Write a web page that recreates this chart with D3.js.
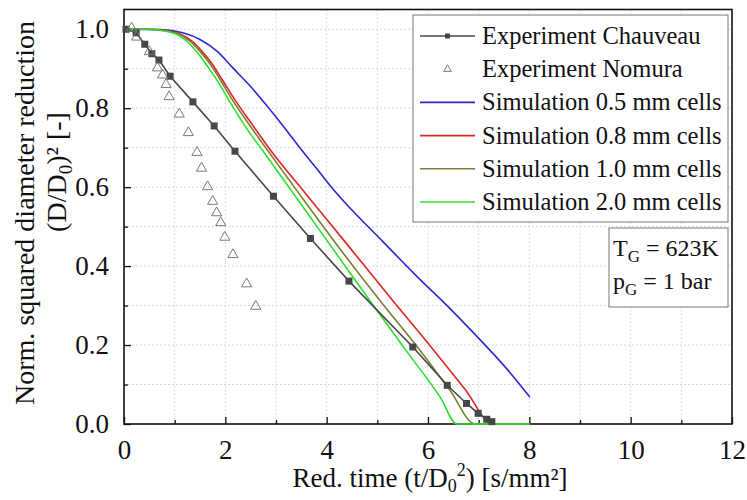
<!DOCTYPE html>
<html>
<head>
<meta charset="utf-8">
<script src="https://cdn.jsdelivr.net/npm/d3@7"></script>
<style>
  body { margin: 0; background: #fff; }
  text { font-family: "Liberation Serif", "Times New Roman", serif; fill: #111; }
</style>
</head>
<body>
<svg id="chart" width="747" height="500"></svg>
<script>
// experiment Chauveau (squares + line)
const chauveauX = [0.04, 0.24, 0.41, 0.55, 0.69, 0.91, 1.36, 1.78, 2.19, 2.95, 3.68, 4.44, 5.70, 6.38, 6.76, 6.99, 7.16, 7.26];
const chauveauY = [1.000, 0.991, 0.962, 0.938, 0.922, 0.881, 0.816, 0.755, 0.691, 0.577, 0.470, 0.362, 0.195, 0.098, 0.052, 0.027, 0.012, 0.006];

// experiment Nomura (open triangles)
const nomuraX = [0.15, 0.25, 0.50, 0.66, 0.76, 0.83, 0.89, 1.09, 1.27, 1.44, 1.53, 1.65, 1.75, 1.83, 1.91, 1.99, 2.15, 2.42, 2.60];
const nomuraY = [1.003, 0.980, 0.943, 0.902, 0.884, 0.860, 0.829, 0.785, 0.738, 0.688, 0.648, 0.601, 0.564, 0.535, 0.510, 0.473, 0.429, 0.355, 0.298];

// simulations
const sim05X = [0, 0.71, 1.16, 1.50, 1.84, 2.15, 2.49, 2.82, 3.14, 3.47, 3.81, 4.12, 4.36, 5.11, 5.78, 6.43, 6.89, 7.56, 8.01];
const sim05Y = [1.0, 0.999, 0.991, 0.974, 0.944, 0.902, 0.856, 0.806, 0.755, 0.700, 0.646, 0.596, 0.561, 0.462, 0.374, 0.293, 0.232, 0.139, 0.068];

const sim08X = [0, 0.51, 0.85, 1.14, 1.34, 1.54, 1.74, 1.93, 2.19, 2.55, 2.90, 3.57, 4.36, 5.25, 6.08, 6.73, 7.28, 8.01];
const sim08Y = [1.0, 1.0, 0.996, 0.986, 0.970, 0.944, 0.912, 0.874, 0.821, 0.755, 0.692, 0.586, 0.462, 0.321, 0.192, 0.088, 0.0, 0.0];

const sim10X = [0, 0.51, 0.81, 1.11, 1.30, 1.50, 1.70, 1.89, 2.13, 2.49, 2.84, 3.47, 4.26, 5.05, 5.84, 6.43, 6.93, 8.01];
const sim10Y = [1.0, 1.0, 0.996, 0.986, 0.970, 0.944, 0.912, 0.874, 0.823, 0.755, 0.692, 0.581, 0.444, 0.313, 0.187, 0.086, 0.0, 0.0];

const sim20X = [0, 0.51, 0.77, 1.07, 1.26, 1.46, 1.66, 1.86, 2.09, 2.43, 2.74, 3.47, 4.26, 4.89, 5.58, 6.24, 6.57, 8.01];
const sim20Y = [1.0, 1.0, 0.996, 0.985, 0.967, 0.939, 0.904, 0.866, 0.816, 0.747, 0.692, 0.561, 0.419, 0.306, 0.184, 0.068, 0.0, 0.0];

const xTicks = [0, 2, 4, 6, 8, 10, 12];
const yTicks = [0.0, 0.2, 0.4, 0.6, 0.8, 1.0];

const simSeries = [
  { name: "Simulation 0.5 mm cells", xs: sim05X, ys: sim05Y, color: "#2a2ad0" },
  { name: "Simulation 0.8 mm cells", xs: sim08X, ys: sim08Y, color: "#e02424" },
  { name: "Simulation 1.0 mm cells", xs: sim10X, ys: sim10Y, color: "#7d7d33" },
  { name: "Simulation 2.0 mm cells", xs: sim20X, ys: sim20Y, color: "#2ee02e" }
];

const margin = { left: 124, right: 15, top: 9.5, bottom: 76 };
const W = 747, H = 500;
const width = W - margin.left - margin.right;
const height = H - margin.top - margin.bottom;

const x = d3.scaleLinear().domain([0, 12]).range([0, width]);
const y = d3.scaleLinear().domain([0, 1.05]).range([height, 0]);

const svg = d3.select("#chart");
const g = svg.append("g").attr("transform", `translate(${margin.left},${margin.top})`);

// dotted grid at every minor step
g.append("g").selectAll("line")
  .data(d3.range(1, 12))
  .enter().append("line")
    .attr("x1", d => x(d)).attr("x2", d => x(d))
    .attr("y1", 0).attr("y2", height)
    .style("stroke", "#d8d8d8").style("stroke-dasharray", "2,2");
g.append("g").selectAll("line")
  .data(d3.range(1, 11).map(d => d / 10))
  .enter().append("line")
    .attr("x1", 0).attr("x2", width)
    .attr("y1", d => y(d)).attr("y2", d => y(d))
    .style("stroke", "#d8d8d8").style("stroke-dasharray", "2,2");

// axes (inward ticks)
g.append("g").attr("transform", `translate(0,${height})`)
  .call(d3.axisBottom(x).tickValues(xTicks).tickSize(-7).tickPadding(16).tickFormat(d3.format("d")));
g.append("g").attr("transform", `translate(0,${height})`)
  .call(d3.axisBottom(x).tickValues(d3.range(1, 12, 2)).tickSize(-4).tickFormat(""));
g.append("g")
  .call(d3.axisLeft(y).tickValues(yTicks).tickSize(-7).tickPadding(15).tickFormat(d3.format(".1f")));
g.append("g")
  .call(d3.axisLeft(y).tickValues([0.1, 0.3, 0.5, 0.7, 0.9]).tickSize(-4).tickFormat(""));

g.selectAll(".domain").remove();
g.selectAll(".tick line").style("stroke", "#111").style("stroke-width", 1.3);
g.selectAll(".tick text")
  .style("font-family", "'Liberation Serif', serif")
  .style("font-size", "27px").style("fill", "#111");

// frame
g.append("rect")
  .attr("x", 0).attr("y", 0).attr("width", width).attr("height", height)
  .style("fill", "none").style("stroke", "#111").style("stroke-width", 1.6);

// simulation lines
const toPts = (xs, ys) => xs.map((v, i) => [v, ys[i]]);
const line = d3.line().x(d => x(d[0])).y(d => y(d[1])).curve(d3.curveMonotoneX);

simSeries.forEach(s => {
  g.append("path")
    .datum(toPts(s.xs, s.ys))
    .attr("d", line)
    .style("fill", "none").style("stroke", s.color).style("stroke-width", 1.6);
});

// Chauveau
const chPts = toPts(chauveauX, chauveauY);
g.append("path")
  .datum(chPts)
  .attr("d", d3.line().x(d => x(d[0])).y(d => y(d[1])))
  .style("fill", "none").style("stroke", "#474747").style("stroke-width", 1.6);
g.append("g").selectAll("rect")
  .data(chPts)
  .enter().append("rect")
    .attr("x", d => x(d[0]) - 3.5).attr("y", d => y(d[1]) - 3.5)
    .attr("width", 7).attr("height", 7)
    .style("fill", "#474747");

// Nomura
const tri = d3.symbol().type(d3.symbolTriangle).size(45);
g.append("g").selectAll("path")
  .data(toPts(nomuraX, nomuraY))
  .enter().append("path")
    .attr("d", tri)
    .attr("transform", d => `translate(${x(d[0])},${y(d[1])})`)
    .style("fill", "none").style("stroke", "#7a7a7a").style("stroke-width", 1);

// legend
const leg = svg.append("g");
leg.append("rect")
  .attr("x", 413).attr("y", 15).attr("width", 315).attr("height", 207)
  .style("fill", "#fff").style("stroke", "#777").style("stroke-width", 1);
const rowY = i => 36 + i * 33.2;
const legItems = [{ name: "Experiment Chauveau", type: "ch" }, { name: "Experiment Nomura", type: "no" }]
  .concat(simSeries.map(s => ({ name: s.name, type: "sim", color: s.color })));
legItems.forEach((it, i) => {
  const yy = rowY(i);
  if (it.type === "ch") {
    leg.append("line").attr("x1", 420).attr("x2", 475).attr("y1", yy).attr("y2", yy)
      .style("stroke", "#474747").style("stroke-width", 1.6);
    leg.append("rect").attr("x", 445).attr("y", yy - 2.5).attr("width", 5).attr("height", 5).style("fill", "#474747");
  } else if (it.type === "no") {
    leg.append("path").attr("d", d3.symbol().type(d3.symbolTriangle).size(25))
      .attr("transform", `translate(447.5,${yy})`)
      .style("fill", "none").style("stroke", "#7a7a7a").style("stroke-width", 1);
  } else {
    leg.append("line").attr("x1", 420).attr("x2", 475).attr("y1", yy).attr("y2", yy)
      .style("stroke", it.color).style("stroke-width", 1.6);
  }
  leg.append("text").attr("x", 482).attr("y", yy).attr("dy", "0.33em")
    .style("font-size", "24.5px").text(it.name);
});

// conditions box
const info = svg.append("g");
info.append("rect")
  .attr("x", 609).attr("y", 228).attr("width", 119).attr("height", 79)
  .style("fill", "#fff").style("stroke", "#777").style("stroke-width", 1);
const t1 = info.append("text").attr("x", 613).attr("y", 256).style("font-size", "24px");
t1.append("tspan").text("T");
t1.append("tspan").attr("dy", 6).style("font-size", "17px").text("G");
t1.append("tspan").attr("dy", -6).text(" = 623K");
const t2 = info.append("text").attr("x", 613).attr("y", 289).style("font-size", "24px");
t2.append("tspan").text("p");
t2.append("tspan").attr("dy", 6).style("font-size", "17px").text("G");
t2.append("tspan").attr("dy", -6).text(" = 1 bar");

// axis titles
const xt = svg.append("text").attr("x", margin.left + width / 2 + 2).attr("y", 487)
  .attr("text-anchor", "middle").style("font-size", "27px");
xt.append("tspan").text("Red. time (t/D");
xt.append("tspan").attr("dy", 5).style("font-size", "18px").text("0");
xt.append("tspan").attr("dy", -16).style("font-size", "18px").text("2");
xt.append("tspan").attr("dy", 11).text(") [s/mm²]");

svg.append("text")
  .attr("transform", "translate(34,213) rotate(-90)")
  .attr("text-anchor", "middle").style("font-size", "28px")
  .text("Norm. squared diameter reduction");
const yt2 = svg.append("text")
  .attr("transform", "translate(66,172) rotate(-90)")
  .attr("text-anchor", "middle").style("font-size", "28px");
yt2.append("tspan").text("(D/D");
yt2.append("tspan").attr("dy", 6).style("font-size", "19px").text("0");
yt2.append("tspan").attr("dy", -6).text(")² [-]");
</script>
</body>
</html>
